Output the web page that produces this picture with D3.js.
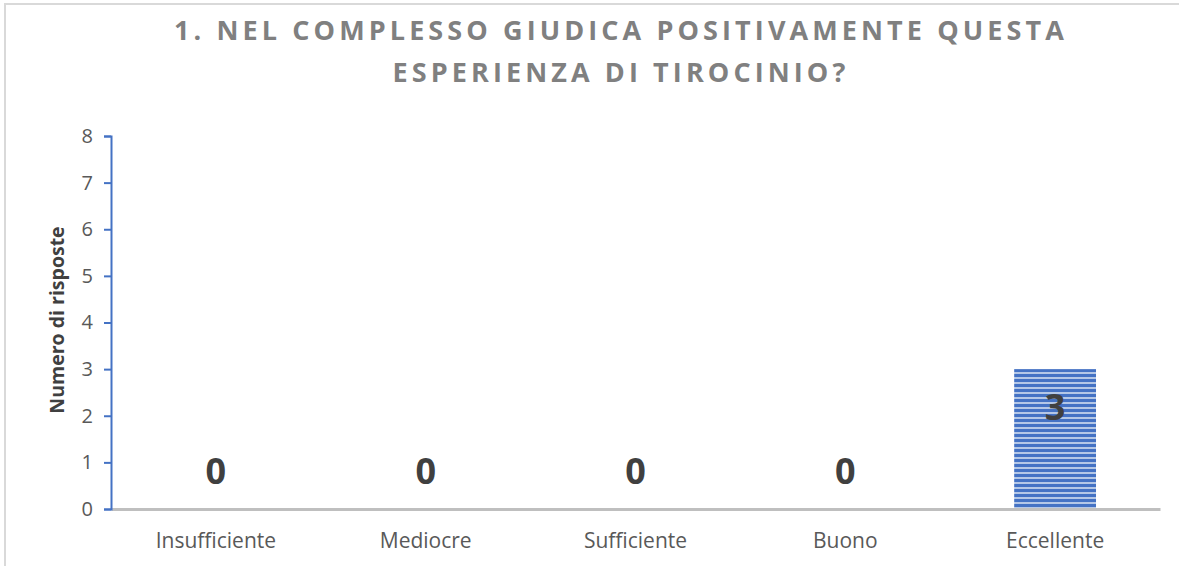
<!DOCTYPE html>
<html>
<head>
<meta charset="utf-8">
<script src="https://cdn.jsdelivr.net/npm/d3@7"></script>
<style>
   html, body { margin: 0; padding: 0; background: #fff; }
   svg { display: block; }
</style>
</head>
<body>
<div id="chart"></div>
<script>
"use strict";

(function () {
   const titleLines = [
      "1. NEL COMPLESSO GIUDICA POSITIVAMENTE QUESTA",
      "ESPERIENZA DI TIROCINIO?"
   ];
   const categories = ["Insufficiente", "Mediocre", "Sufficiente", "Buono", "Eccellente"];
   const values = [0, 0, 0, 0, 3];
   const yTicks = [0, 1, 2, 3, 4, 5, 6, 7, 8];
   const yLabel = "Numero di risposte";

   const width = 1179;
   const height = 566;
   const margin = { top: 136, right: 19, bottom: 57, left: 111 };
   const font = "'Open Sans', sans-serif";

   const svg = d3.select("#chart").append("svg")
      .attr("width", width)
      .attr("height", height);

   // striped fill like the Excel pattern
   const defs = svg.append("defs");
   const pattern = defs.append("pattern")
      .attr("id", "stripes")
      .attr("patternUnits", "userSpaceOnUse")
      .attr("width", 8)
      .attr("height", 5)
      .attr("y", 369);
   pattern.append("rect").attr("width", 8).attr("height", 5).attr("fill", "#b4c7e7");
   pattern.append("rect").attr("width", 8).attr("height", 3).attr("fill", "#4472c4");

   // chart border (top and left visible)
   svg.append("path")
      .attr("d", `M5,${height} V4 H${width}`)
      .attr("fill", "none")
      .attr("stroke", "#d9d9d9")
      .attr("stroke-width", 2);

   const x = d3.scaleBand()
      .domain(categories)
      .range([margin.left, width - margin.right])
      .paddingInner(0.61)
      .paddingOuter(0.305);

   const y = d3.scaleLinear()
      .domain([0, 8])
      .range([height - margin.bottom, margin.top]);

   // title
   svg.append("g")
      .selectAll("text")
      .data(titleLines)
      .join("text")
      .attr("x", 621)
      .attr("y", (d, i) => 40 + i * 42)
      .attr("text-anchor", "middle")
      .style("font-family", font)
      .style("font-size", "27px")
      .style("font-weight", "bold")
      .style("letter-spacing", "4.1px")
      .style("fill", "#808080")
      .text(d => d);

   // bars
   svg.append("g")
      .selectAll("rect")
      .data(values)
      .join("rect")
      .attr("x", (d, i) => x(categories[i]))
      .attr("width", x.bandwidth())
      .attr("y", d => y(d))
      .attr("height", d => y(0) - y(d))
      .attr("fill", "url(#stripes)");

   // value labels
   svg.append("g")
      .selectAll("text")
      .data(values)
      .join("text")
      .attr("x", (d, i) => x(categories[i]) + x.bandwidth() / 2)
      .attr("y", d => {
         const inside = y(d) + 39;
         return (inside < y(0) - 37 ? inside : y(0) - 37) + 12;
      })
      .attr("text-anchor", "middle")
      .style("font-family", font)
      .style("font-size", "36px")
      .style("font-weight", "bold")
      .style("fill", "#404040")
      .text(d => d);

   // x axis
   const xAxis = svg.append("g")
      .attr("transform", `translate(0,${y(0)})`)
      .call(d3.axisBottom(x).tickSize(0).tickPadding(24));
   xAxis.select(".domain")
      .attr("stroke", "#bfbfbf")
      .attr("stroke-width", 3);
   xAxis.selectAll("text")
      .style("font-family", font)
      .style("font-size", "21px")
      .style("fill", "#595959");

   // y axis
   const yAxis = svg.append("g")
      .attr("transform", `translate(${margin.left},0)`)
      .call(d3.axisLeft(y).tickValues(yTicks).tickSize(7).tickSizeOuter(7).tickPadding(11));
   yAxis.select(".domain")
      .attr("stroke", "#4472c4")
      .attr("stroke-width", 2);
   yAxis.selectAll(".tick line")
      .attr("stroke", "#4472c4")
      .attr("stroke-width", 2);
   yAxis.selectAll("text")
      .style("font-family", font)
      .style("font-size", "20px")
      .style("fill", "#595959");

   // y axis title
   svg.append("text")
      .attr("transform", "translate(64,320) rotate(-90)")
      .attr("text-anchor", "middle")
      .style("font-family", font)
      .style("font-size", "19.5px")
      .style("font-weight", "bold")
      .style("fill", "#404040")
      .text(yLabel);
})();
</script>
</body>
</html>
